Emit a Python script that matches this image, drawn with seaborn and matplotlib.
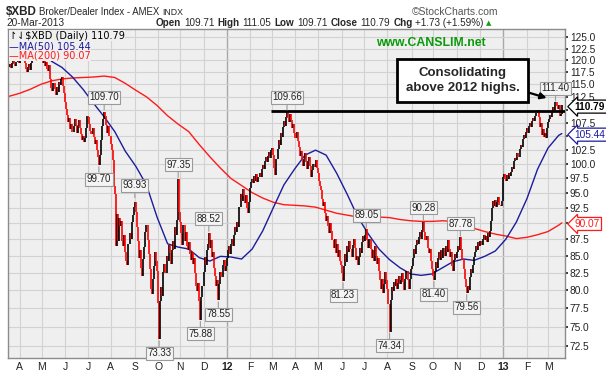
import numpy as np
import pandas as pd
import matplotlib
matplotlib.use("Agg")
import matplotlib.pyplot as plt
import seaborn as sns
from matplotlib.ticker import FixedLocator, NullLocator, FuncFormatter

# ------------------------------------------------------------------
# daily closes (business days)
# ------------------------------------------------------------------
c_2011_03 = [118.6, 119.2, 118.4, 119.5, 120.1, 119.3, 118.7, 119.6, 120.0, 119.4]
c_2011_04 = [121.0, 121.5, 120.8, 121.3, 120.6, 119.4, 118.2, 117.6, 118.5, 119.2, 118.0,
             119.5, 120.6, 121.2, 120.4, 121.0, 121.6, 122.0, 121.4, 120.8, 121.3]
c_2011_05 = [120.2, 119.5, 120.0, 118.7, 119.6, 118.2, 117.8, 118.9, 116.0, 114.2, 113.6,
             115.2, 114.0, 112.8, 114.5, 113.4, 115.5, 114.8, 116.0, 116.6, 114.6, 113.2]
c_2011_06 = [111.5, 110.2, 109.0, 107.6, 108.4, 106.2, 107.3, 105.8, 106.9, 108.2, 107.0,
             105.6, 106.8, 107.9, 106.4, 105.4, 104.3, 105.0, 103.9, 104.6, 106.5, 108.8]
c_2011_07 = [108.5, 107.2, 106.0, 105.3, 106.4, 104.8, 103.6, 104.2, 102.5, 101.2, 99.8,
             101.6, 104.3, 106.8, 108.2, 109.6, 108.7, 107.0, 105.6, 106.8, 104.9]
c_2011_08 = [103.5, 102.4, 100.6, 96.2, 94.8, 86.5, 91.5, 87.2, 90.8, 89.6, 90.4, 87.3,
             86.4, 88.2, 85.6, 84.2, 83.6, 86.8, 88.4, 87.6, 90.2, 91.4, 92.6]
c_2011_09 = [93.5, 91.8, 89.4, 87.2, 84.6, 85.8, 83.2, 82.0, 84.5, 86.3, 88.6, 89.8, 87.4,
             85.2, 83.0, 80.2, 79.4, 81.6, 83.4, 85.6, 84.2, 82.8]
c_2011_10 = [78.2, 73.33, 78.5, 80.4, 79.2, 82.6, 83.8, 82.4, 85.0, 84.2, 86.6, 85.4, 83.8,
             85.9, 87.2, 86.0, 89.4, 88.2, 90.6, 97.35, 91.8]
c_2011_11 = [90.2, 88.4, 86.6, 89.8, 87.2, 88.6, 86.4, 85.8, 87.0, 85.2, 84.4, 85.6, 83.8,
             84.6, 82.4, 80.6, 79.8, 81.0, 78.4, 75.88, 79.0, 80.6]
c_2011_12 = [82.6, 84.8, 83.6, 85.8, 86.8, 88.52, 86.2, 87.4, 84.8, 85.6, 83.2, 82.0, 80.6,
             81.4, 78.55, 80.8, 82.6, 81.8, 83.6, 84.4, 82.8, 83.4]
c_2012_01 = [84.6, 85.8, 86.4, 85.2, 86.8, 87.6, 86.4, 88.2, 89.4, 88.6, 90.2, 89.4, 92.6,
             94.8, 93.6, 95.6, 94.4, 93.2, 94.6, 92.4, 91.6, 93.4]
c_2012_02 = [95.8, 96.8, 97.4, 96.6, 97.8, 97.0, 98.2, 96.8, 97.6, 98.4, 97.6, 99.0, 99.8,
             99.0, 100.4, 101.2, 100.2, 101.4, 102.0, 101.0, 102.4]
c_2012_03 = [102.8, 101.6, 99.2, 98.0, 100.8, 102.6, 104.2, 103.4, 105.6, 104.8, 106.6,
             107.8, 106.8, 108.6, 109.66, 108.4, 107.6, 109.2, 108.0, 106.4, 107.2, 105.6]
c_2012_04 = [104.6, 105.8, 104.0, 103.0, 101.4, 102.2, 100.6, 99.6, 100.8, 101.8, 100.2,
             99.0, 100.4, 101.2, 99.6, 97.6, 98.8, 100.0, 99.4, 100.6, 99.2]
c_2012_05 = [98.4, 97.0, 96.2, 95.4, 94.0, 92.8, 93.4, 91.6, 90.4, 91.2, 89.6, 88.4, 90.0,
             88.8, 87.4, 86.2, 87.6, 85.4, 86.8, 84.8, 85.8, 84.2, 83.6]
c_2012_06 = [82.4, 81.23, 83.4, 85.2, 84.0, 86.4, 85.6, 87.2, 86.0, 84.8, 86.6, 87.6, 86.2,
             84.4, 85.0, 83.6, 84.8, 86.2, 85.4, 87.0, 88.0]
c_2012_07 = [87.2, 88.2, 89.05, 87.4, 86.2, 87.6, 86.0, 84.6, 85.8, 84.2, 86.4, 85.0, 83.8,
             84.6, 82.8, 81.4, 80.2, 81.6, 79.6, 80.8, 82.6, 81.4]
c_2012_08 = [80.2, 78.0, 74.34, 78.6, 80.4, 79.8, 81.2, 80.6, 81.6, 80.2, 81.0, 82.0, 80.8,
             81.4, 82.4, 81.2, 80.0, 81.6, 82.8, 81.4, 80.2, 81.6, 83.0]
c_2012_09 = [83.4, 84.6, 86.0, 85.2, 86.6, 87.4, 86.8, 87.8, 88.6, 87.6, 89.0, 90.28, 88.6,
             87.4, 88.0, 86.2, 85.4, 86.0, 84.2, 83.0]
c_2012_10 = [82.0, 81.40, 82.8, 84.0, 83.2, 84.6, 85.6, 84.4, 85.8, 84.6, 86.2, 85.0, 86.4,
             85.6, 87.4, 86.0, 84.8, 85.6, 83.4, 82.8, 84.4, 85.2, 84.6]
c_2012_11 = [85.6, 86.4, 85.8, 87.78, 86.0, 84.4, 83.0, 81.6, 80.4, 79.56, 80.6, 80.0, 81.8,
             83.0, 82.4, 83.6, 84.8, 85.6, 86.4, 85.8, 87.0, 86.4]
c_2012_12 = [87.2, 86.6, 87.6, 88.2, 87.4, 88.0, 87.0, 88.4, 87.8, 88.8, 90.4, 92.4, 93.6,
             92.8, 93.8, 92.6, 93.4, 94.2, 93.0, 92.8, 93.6]
c_2013_01 = [97.6, 98.2, 97.4, 97.0, 98.0, 97.4, 98.4, 97.8, 98.6, 99.4, 99.0, 100.4, 101.0,
             100.6, 101.8, 101.2, 102.6, 103.4, 103.0, 104.4, 105.2, 104.6, 105.8]
c_2013_02 = [106.4, 105.6, 106.8, 107.4, 106.6, 107.8, 108.4, 107.8, 108.8, 109.4, 110.0,
             108.6, 106.6, 107.4, 105.2, 106.2, 104.8, 105.6, 104.6, 106.4]
c_2013_03 = [107.6, 108.2, 109.0, 108.6, 109.8, 110.4, 110.0, 111.40, 110.6, 110.2, 110.8,
             108.8, 109.06, 110.79]

# moving averages, read every 10th bar (last value = today's)
ma50 = [np.nan, np.nan, np.nan, np.nan, 119.8, 118.5, 116.5, 114.0, 111.2, 108.6, 105.8,
        102.2, 99.5, 96.3, 91.0, 86.8, 86.3, 86.0, 84.7, 84.2, 84.9, 84.8, 84.5, 86.0, 88.8,
        92.5, 96.3, 99.0, 101.5, 102.4, 101.5, 98.3, 94.7, 91.0, 88.3, 86.0, 84.4, 83.2,
        82.3, 82.1, 82.3, 83.2, 84.1, 84.5, 84.3, 84.9, 85.7, 87.5, 90.2, 94.0, 99.0, 102.8,
        105.1, 105.44]
ma200 = [112.6, 113.2, 114.0, 115.0, 115.7, 116.1, 116.3, 116.4, 116.5, 116.7, 116.4,
         115.2, 113.8, 112.5, 110.8, 108.8, 107.2, 105.8, 103.4, 101.2, 99.2, 97.4, 96.2,
         95.0, 94.1, 93.4, 93.0, 92.9, 92.8, 92.6, 92.1, 91.6, 91.3, 91.0, 91.0, 91.0, 90.9,
         90.6, 90.4, 90.3, 90.3, 90.4, 90.3, 89.8, 89.2, 88.7, 88.3, 88.0, 87.6, 87.8, 88.2,
         88.7, 89.7, 90.07]

# labelled highs / lows
peak_dates = ["2011-07-22", "2011-09-01", "2011-10-28", "2011-12-08", "2012-03-21",
              "2012-07-04", "2012-09-18", "2012-11-06", "2013-03-12"]
peak_vals = [109.70, 93.93, 97.35, 88.52, 109.66, 89.05, 90.28, 87.78, 111.40]
low_dates = ["2011-07-15", "2011-10-04", "2011-11-28", "2011-12-21", "2012-06-04",
             "2012-08-03", "2012-10-02", "2012-11-14"]
low_vals = [99.70, 73.33, 75.88, 78.55, 81.23, 74.34, 81.40, 79.56]
resist_level = 109.66
resist_start = "2012-02-29"

y_ticks = [72.5, 75.0, 77.5, 80.0, 82.5, 85.0, 87.5, 90.0, 92.5, 95.0, 97.5, 100.0,
           102.5, 105.0, 107.5, 110.0, 112.5, 115.0, 117.5, 120.0, 122.5, 125.0]

quote = [("Open", "109.71"), ("High", "111.05"), ("Low", "109.71"), ("Close", "110.79"),
         ("Chg", "+1.73 (+1.59%)")]

# ------------------------------------------------------------------
sns.set_theme(style="white")
plt.rcParams["font.family"] = ["Liberation Sans", "DejaVu Sans"]

close = np.concatenate([c_2011_03, c_2011_04, c_2011_05, c_2011_06, c_2011_07, c_2011_08,
                        c_2011_09, c_2011_10, c_2011_11, c_2011_12, c_2012_01, c_2012_02,
                        c_2012_03, c_2012_04, c_2012_05, c_2012_06, c_2012_07, c_2012_08,
                        c_2012_09, c_2012_10, c_2012_11, c_2012_12, c_2013_01, c_2013_02,
                        c_2013_03])
n = len(close)
dates = pd.bdate_range("2011-03-18", periods=n)
pos = np.arange(n)

prev = np.r_[close[0], close[:-1]]
bar_lo = np.minimum(prev, close)
bar_hi = np.maximum(prev, close)
bar_col = np.where(close < prev, "#ff0000", "#000000")

ma_pos = list(range(0, 10 * (len(ma50) - 1), 10)) + [n - 1]
ma_df = pd.DataFrame({"pos": ma_pos, "ma50": ma50, "ma200": ma200})

W, H = 606, 374
fig = plt.figure(figsize=(W / 100, H / 100), dpi=100)
fig.patch.set_facecolor("white")
ax = fig.add_axes([8 / W, 16 / H, 557 / W, 329 / H])
ax.set_facecolor("#efefef")

ax.set_yscale("log")
ax.set_ylim(70.96, 126.8)
ax.set_xlim(-1, n + 2)

# grid
month_start = pd.Series(pos, index=dates).groupby([dates.year, dates.month]).first().values
month_start = [p for p in month_start if p > 0]
for p in month_start:
    is_year = dates[p].month == 1
    ax.axvline(p, color="#a8a8a8" if is_year else "#d2d2d2", lw=1.0 if is_year else 0.8, zorder=0)
for v in y_ticks:
    ax.axhline(v, color="#d2d2d2", lw=0.8, zorder=0)

# MAs
sns.lineplot(data=ma_df, x="pos", y="ma200", color="#ff1a1a", lw=1.0, ax=ax, zorder=2)
sns.lineplot(data=ma_df, x="pos", y="ma50", color="#1c1c9c", lw=1.0, ax=ax, zorder=2)

# price bars
ax.vlines(pos, bar_lo, bar_hi, colors=bar_col, lw=1.2, zorder=3)

# 2012 highs line
rs = dates.get_indexer([pd.Timestamp(resist_start)])[0]
ax.hlines(resist_level, rs, n + 2, color="black", lw=2.0, zorder=4)

# high / low labels
box = dict(boxstyle="square,pad=0.15", fc="#f4f4f4", ec="#9a9a9a", lw=0.8)
for dl, vl, dy in [(peak_dates, peak_vals, 10), (low_dates, low_vals, -10)]:
    for d, v in zip(dl, vl):
        i = dates.get_indexer([pd.Timestamp(d)])[0]
        ax.annotate(f"{v:.2f}", xy=(i, v), xytext=(0, dy), textcoords="offset points",
                    ha="center", va="center", fontsize=7, color="#222222", bbox=box,
                    arrowprops=dict(arrowstyle="-", color="#9a9a9a", lw=0.8, shrinkA=0, shrinkB=1),
                    zorder=6)

# axes / ticks
tags = [(close[-1], "black", "bold"), (ma50[-1], "#1c1c9c", "normal"),
        (ma200[-1], "#ff1a1a", "normal")]
ax.yaxis.tick_right()
ax.yaxis.set_major_locator(FixedLocator(y_ticks))
ax.yaxis.set_minor_locator(NullLocator())


def ylab(v, _):
    # the value tags sit on top of these labels
    if any(abs(np.log(v / t[0])) < 0.012 for t in tags):
        return ""
    return f"{v:.1f}"


ax.yaxis.set_major_formatter(FuncFormatter(ylab))
ax.tick_params(axis="y", which="major", right=True, length=2, pad=1.5, labelsize=7.3,
               colors="#222222")
labels = [f"{dates[p].year % 100:02d}" if dates[p].month == 1 else dates[p].strftime("%b")[0]
          for p in month_start]
ax.set_xticks(month_start)
ax.set_xticklabels(labels)
ax.tick_params(axis="x", length=0, pad=3, labelsize=7.5, colors="#222222")
for p, t in zip(month_start, ax.get_xticklabels()):
    if dates[p].month == 1:
        t.set_fontweight("bold")
ax.set_xlabel("")
ax.set_ylabel("")
for s in ax.spines.values():
    s.set_color("#8c8c8c")
    s.set_linewidth(1.0)

# legend in the plot
bg = dict(boxstyle="square,pad=0.05", fc="#efefef", ec="none")
ax.text(0.002, 0.979, "\u21be\u21c3$XBD (Daily) " + f"{close[-1]:.2f}", transform=ax.transAxes,
        fontsize=7, family="DejaVu Sans", va="center", ha="left", color="black", bbox=bg, zorder=7)
ax.text(0.002, 0.948, "\u2014MA(50) " + f"{ma50[-1]:.2f}", transform=ax.transAxes,
        fontsize=7, family="DejaVu Sans", va="center", ha="left", color="#1c1c9c", bbox=bg, zorder=7)
ax.text(0.002, 0.918, "\u2014MA(200) " + f"{ma200[-1]:.2f}", transform=ax.transAxes,
        fontsize=7, family="DejaVu Sans", va="center", ha="left", color="#ff1a1a", bbox=bg, zorder=7)

ax.text(0.858, 0.957, "www.CANSLIM.net", transform=ax.transAxes, fontsize=8.8,
        fontweight="bold", color="#0a9a0a", ha="right", va="center", zorder=7)

# callout
ax.text(0.816, 0.8435, "Consolidating\nabove 2012 highs.", transform=ax.transAxes,
        fontsize=9.5, fontweight="bold", ha="center", va="center", linespacing=1.25,
        bbox=dict(boxstyle="square,pad=0.65", fc="white", ec="black", lw=2.0), zorder=8)
ax.annotate("", xy=(0.972, 0.788), xytext=(0.932, 0.808), xycoords="axes fraction",
            arrowprops=dict(arrowstyle="-|>", color="black", lw=1.6, mutation_scale=9), zorder=8)

# value tags on the right axis
for val, col, wt in tags:
    ax.annotate(f"{val:.2f}", xy=(1.0, val), xycoords=("axes fraction", "data"),
                xytext=(7, -0.8), textcoords="offset points", ha="left", va="center",
                fontsize=7.3, fontweight=wt, color=col, annotation_clip=False,
                bbox=dict(boxstyle="larrow,pad=0.15", fc="white", ec=col, lw=0.9), zorder=9)

# header
def ft(px, py, s, **kw):
    return fig.text(px / W, 1 - py / H, s, va="center", ha="left", **kw)


ft(6, 12, "$XBD", fontsize=8.4, fontweight="bold")
ft(39, 12, "Broker/Dealer Index - AMEX", fontsize=6.9)
ft(162, 12.5, "INDX", fontsize=6.3)
ft(412, 12, "\u00a9StockCharts.com", fontsize=7.5, color="#555555")
ft(6, 23, "20-Mar-2013", fontsize=7.3)

renderer = fig.canvas.get_renderer()
x = 156
for name, val in quote:
    for s, w in [(name, "bold"), (val, "normal")]:
        t = ft(x, 23, s, fontsize=7.1, fontweight=w)
        x += t.get_window_extent(renderer).width + 3
ft(x - 1, 23, "\u25b2", fontsize=5, color="#1a9a1a", family="DejaVu Sans")

fig.savefig("out.png", dpi=100, facecolor="white")
